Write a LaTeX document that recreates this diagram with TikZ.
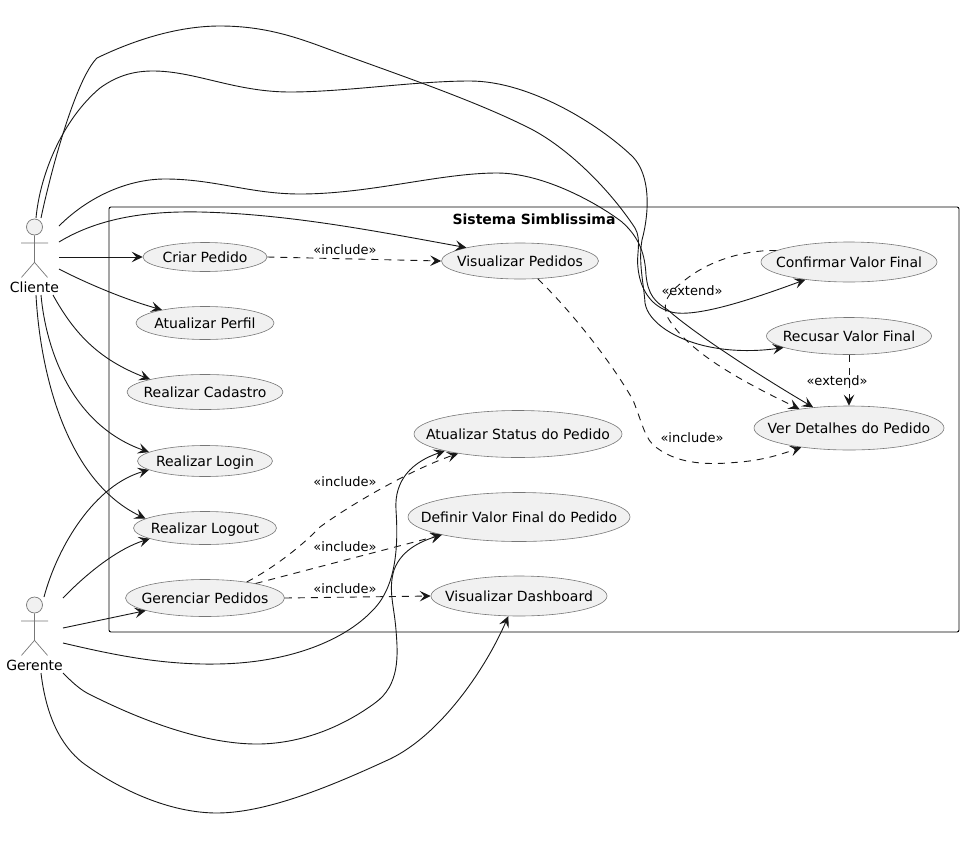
\documentclass[tikz,border=0pt]{standalone}
\usepackage{fontspec}
\setmainfont{DejaVu Sans}
\usetikzlibrary{arrows.meta,shapes.geometric}

\definecolor{inkdark}{HTML}{181818}
\definecolor{ucfill}{HTML}{F1F1F1}
\definecolor{ucedge}{HTML}{777777}

\newcommand{\uctext}[1]{\makebox[0pt]{\rule[-3pt]{0pt}{16.5pt}#1}}

\tikzset{
    usecase/.style 2 args={ellipse, fill=ucfill, draw=ucedge, line width=0.6pt, inner sep=0pt,
        minimum width=#1pt, minimum height=#2pt, text=black, font=\fontsize{14}{17}\selectfont},
    actorhead/.style={circle, fill=ucfill, draw=ucedge, line width=0.7pt, inner sep=0pt, minimum size=16pt},
    actorline/.style={draw=ucedge, line width=0.7pt},
    actorname/.style={inner sep=0pt, font=\fontsize{14}{17}\selectfont},
    frametitle/.style={inner sep=0pt, font=\fontsize{14}{17}\selectfont\bfseries},
    stereo/.style={inner sep=0pt, font=\fontsize{13}{16}\selectfont},
    assoc/.style={draw=inkdark, line width=0.9pt, -{Stealth[length=11pt,width=10.5pt,inset=4.5pt]}},
    dep/.style={assoc, dash pattern=on 7pt off 6pt},
}

\begin{document}
\begin{tikzpicture}[x=1pt, y=-1pt]
    \useasboundingbox (0,0) rectangle (964,841);

    \draw[black, line width=0.9pt, rounded corners=2pt] (109,207) rectangle (959,632);
    \node[frametitle] (sistema) at (534,219) {Sistema Simblissima};

    % actors
    \node[actorhead] (clientehead) at (34.5,227) {};
    \draw[actorline] (clientehead.south) -- ++(0,27) -- ++(-13,15) ++(13,-15) -- ++(13,15) (21,243) -- (48,243);
    \node[actorname] (cliente) at (34.5,287) {Cliente};
    \node[actorhead] (gerentehead) at (34.5,605) {};
    \draw[actorline] (gerentehead.south) -- ++(0,27) -- ++(-13,15) ++(13,-15) -- ++(13,15) (21,621) -- (48,621);
    \node[actorname] (gerente) at (34.5,665) {Gerente};

    % free ends round the actors
    \coordinate (cliN1) at (36,218);
    \coordinate (cliN2) at (41,218);
    \coordinate (cliE1) at (59,226);
    \coordinate (cliE2) at (59,242);
    \coordinate (cliE3) at (59,257);
    \coordinate (cliE4) at (59,269);
    \coordinate (cliS1) at (36,295);
    \coordinate (cliS2) at (41,295);
    \coordinate (cliS3) at (53,295);
    \coordinate (gerN1) at (44,597);
    \coordinate (gerE1) at (63,598);
    \coordinate (gerE2) at (63,628);
    \coordinate (gerE3) at (63,643);
    \coordinate (gerE4) at (63,673);
    \coordinate (gerS1) at (41,673);

    % use cases
    \node[usecase={124}{29}] (criar) at (205,257) {\uctext{Criar Pedido}};
    \node[usecase={138}{33}] (perfil) at (205,323) {\uctext{Atualizar Perfil}};
    \node[usecase={156}{35}] (cadastro) at (205,392) {\uctext{Realizar Cadastro}};
    \node[usecase={135}{31}] (login) at (205,461) {\uctext{Realizar Login}};
    \node[usecase={143}{33}] (logout) at (205,528) {\uctext{Realizar Logout}};
    \node[usecase={159}{37}] (gerenciar) at (205,598) {\uctext{Gerenciar Pedidos}};
    \node[usecase={157}{36}] (visualizar) at (520,261) {\uctext{Visualizar Pedidos}};
    \node[usecase={208}{47}] (status) at (518,434) {\uctext{Atualizar Status do Pedido}};
    \node[usecase={222}{49}] (definir) at (519,517) {\uctext{Definir Valor Final do Pedido}};
    \node[usecase={176}{40}] (dashboard) at (519,596) {\uctext{Visualizar Dashboard}};
    \node[usecase={176}{40}] (confirmar) at (849,262) {\uctext{Confirmar Valor Final}};
    \node[usecase={165}{37}] (recusar) at (849,336) {\uctext{Recusar Valor Final}};
    \node[usecase={190}{44}] (detalhes) at (849,428) {\uctext{Ver Detalhes do Pedido}};

    % Cliente
    \draw[assoc] (cliE3) -- (criar.west);
    \draw[assoc] (cliE4) .. controls (80,280) and (120,298) .. (perfil.163);
    \draw[assoc] (cliS3) .. controls (75,335) and (100,360) .. (cadastro.167);
    \draw[assoc] (cliS2) .. controls (46,350) and (72,425) .. (login.171);
    \draw[assoc] (cliS1) .. controls (40,370) and (65,480) .. (logout.171);
    \draw[assoc] (cliE2) .. controls (100,217) and (150,211) .. (200,212) .. controls (290,214) and (380,232) .. (visualizar.166);
    \draw[assoc] (cliE1) .. controls (90,195) and (130,179) .. (165,179) .. controls (215,179) and (250,194) .. (300,194)
        .. controls (370,194) and (440,173) .. (497,173) .. controls (545,173) and (600,205) .. (622,222)
        .. controls (640,238) and (645,255) .. (646,275) .. controls (648,295) and (655,302) .. (668,310)
        .. controls (690,330) and (750,370) .. (detalhes.150);
    \draw[assoc] (cliN2) .. controls (50,175) and (75,80) .. (97,58) .. controls (130,42) and (175,26) .. (220,26)
        .. controls (260,26) and (290,35) .. (320,46) .. controls (390,72) and (475,100) .. (533,130)
        .. controls (570,150) and (610,190) .. (635,228) .. controls (642,240) and (636,255) .. (638,268)
        .. controls (640,288) and (650,305) .. (668,311) .. controls (690,320) and (750,300) .. (confirmar.202);
    \draw[assoc] (cliN1) .. controls (40,175) and (62,120) .. (100,88) .. controls (118,75) and (135,71) .. (153,71)
        .. controls (195,71) and (235,92) .. (290,92) .. controls (345,92) and (415,81) .. (470,81)
        .. controls (530,81) and (600,125) .. (633,157) .. controls (650,175) and (650,210) .. (642,240)
        .. controls (638,262) and (644,285) .. (645,303) .. controls (648,322) and (675,340) .. (710,347)
        .. controls (735,352) and (760,351) .. (recusar.190);

    % Gerente
    \draw[assoc] (gerN1) .. controls (58,545) and (95,485) .. (login.189);
    \draw[assoc] (gerE1) .. controls (90,570) and (120,548) .. (logout.191);
    \draw[assoc] (gerE2) -- (gerenciar.192);
    \draw[assoc] (gerE3) .. controls (110,654) and (160,665) .. (217,664) .. controls (290,663) and (345,640) .. (373,610)
        .. controls (398,585) and (398,540) .. (396,510) .. controls (394,480) and (412,462) .. (status.193);
    \draw[assoc] (gerE4) .. controls (70,680) and (78,688) .. (87,693) .. controls (130,715) and (200,745) .. (260,744)
        .. controls (305,743) and (345,725) .. (375,703) .. controls (400,685) and (398,655) .. (396,630)
        .. controls (394,605) and (388,590) .. (394,570) .. controls (402,548) and (425,540) .. (definir.193);
    \draw[assoc] (gerS1) .. controls (46,715) and (60,745) .. (83,763) .. controls (120,790) and (170,813) .. (217,813)
        .. controls (270,813) and (340,782) .. (390,759) .. controls (440,735) and (485,670) .. (dashboard.242);

    % include and extend
    \draw[dep] (criar.east) -- (visualizar.west);
    \draw[dep] (visualizar.315) .. controls (570,310) and (610,360) .. (633,400) .. controls (643,425) and (645,440) .. (657,448)
        .. controls (680,465) and (710,465) .. (740,462) .. controls (765,460) and (785,453) .. (detalhes.202);
    \draw[dep] (gerenciar.21) .. controls (270,570) and (300,548) .. (320,527) .. controls (350,505) and (410,470) .. (status.198);
    \draw[dep] (gerenciar.16) -- (definir.193);
    \draw[dep] (gerenciar.east) -- (dashboard.west);
    \draw[dep] (confirmar.171) .. controls (745,250) and (710,260) .. (685,280) .. controls (665,295) and (662,305) .. (668,318)
        .. controls (690,355) and (750,385) .. (detalhes.159);
    \draw[dep] (recusar.south) -- (detalhes.north);

    \node[stereo] (incl1) at (345,250) {«include»};
    \node[stereo] (incl2) at (692,438) {«include»};
    \node[stereo] (incl3) at (345,482) {«include»};
    \node[stereo] (incl4) at (345,547) {«include»};
    \node[stereo] (incl5) at (345,589) {«include»};
    \node[stereo] (ext1) at (692,291) {«extend»};
    \node[stereo] (ext2) at (837,381) {«extend»};
\end{tikzpicture}
\end{document}
